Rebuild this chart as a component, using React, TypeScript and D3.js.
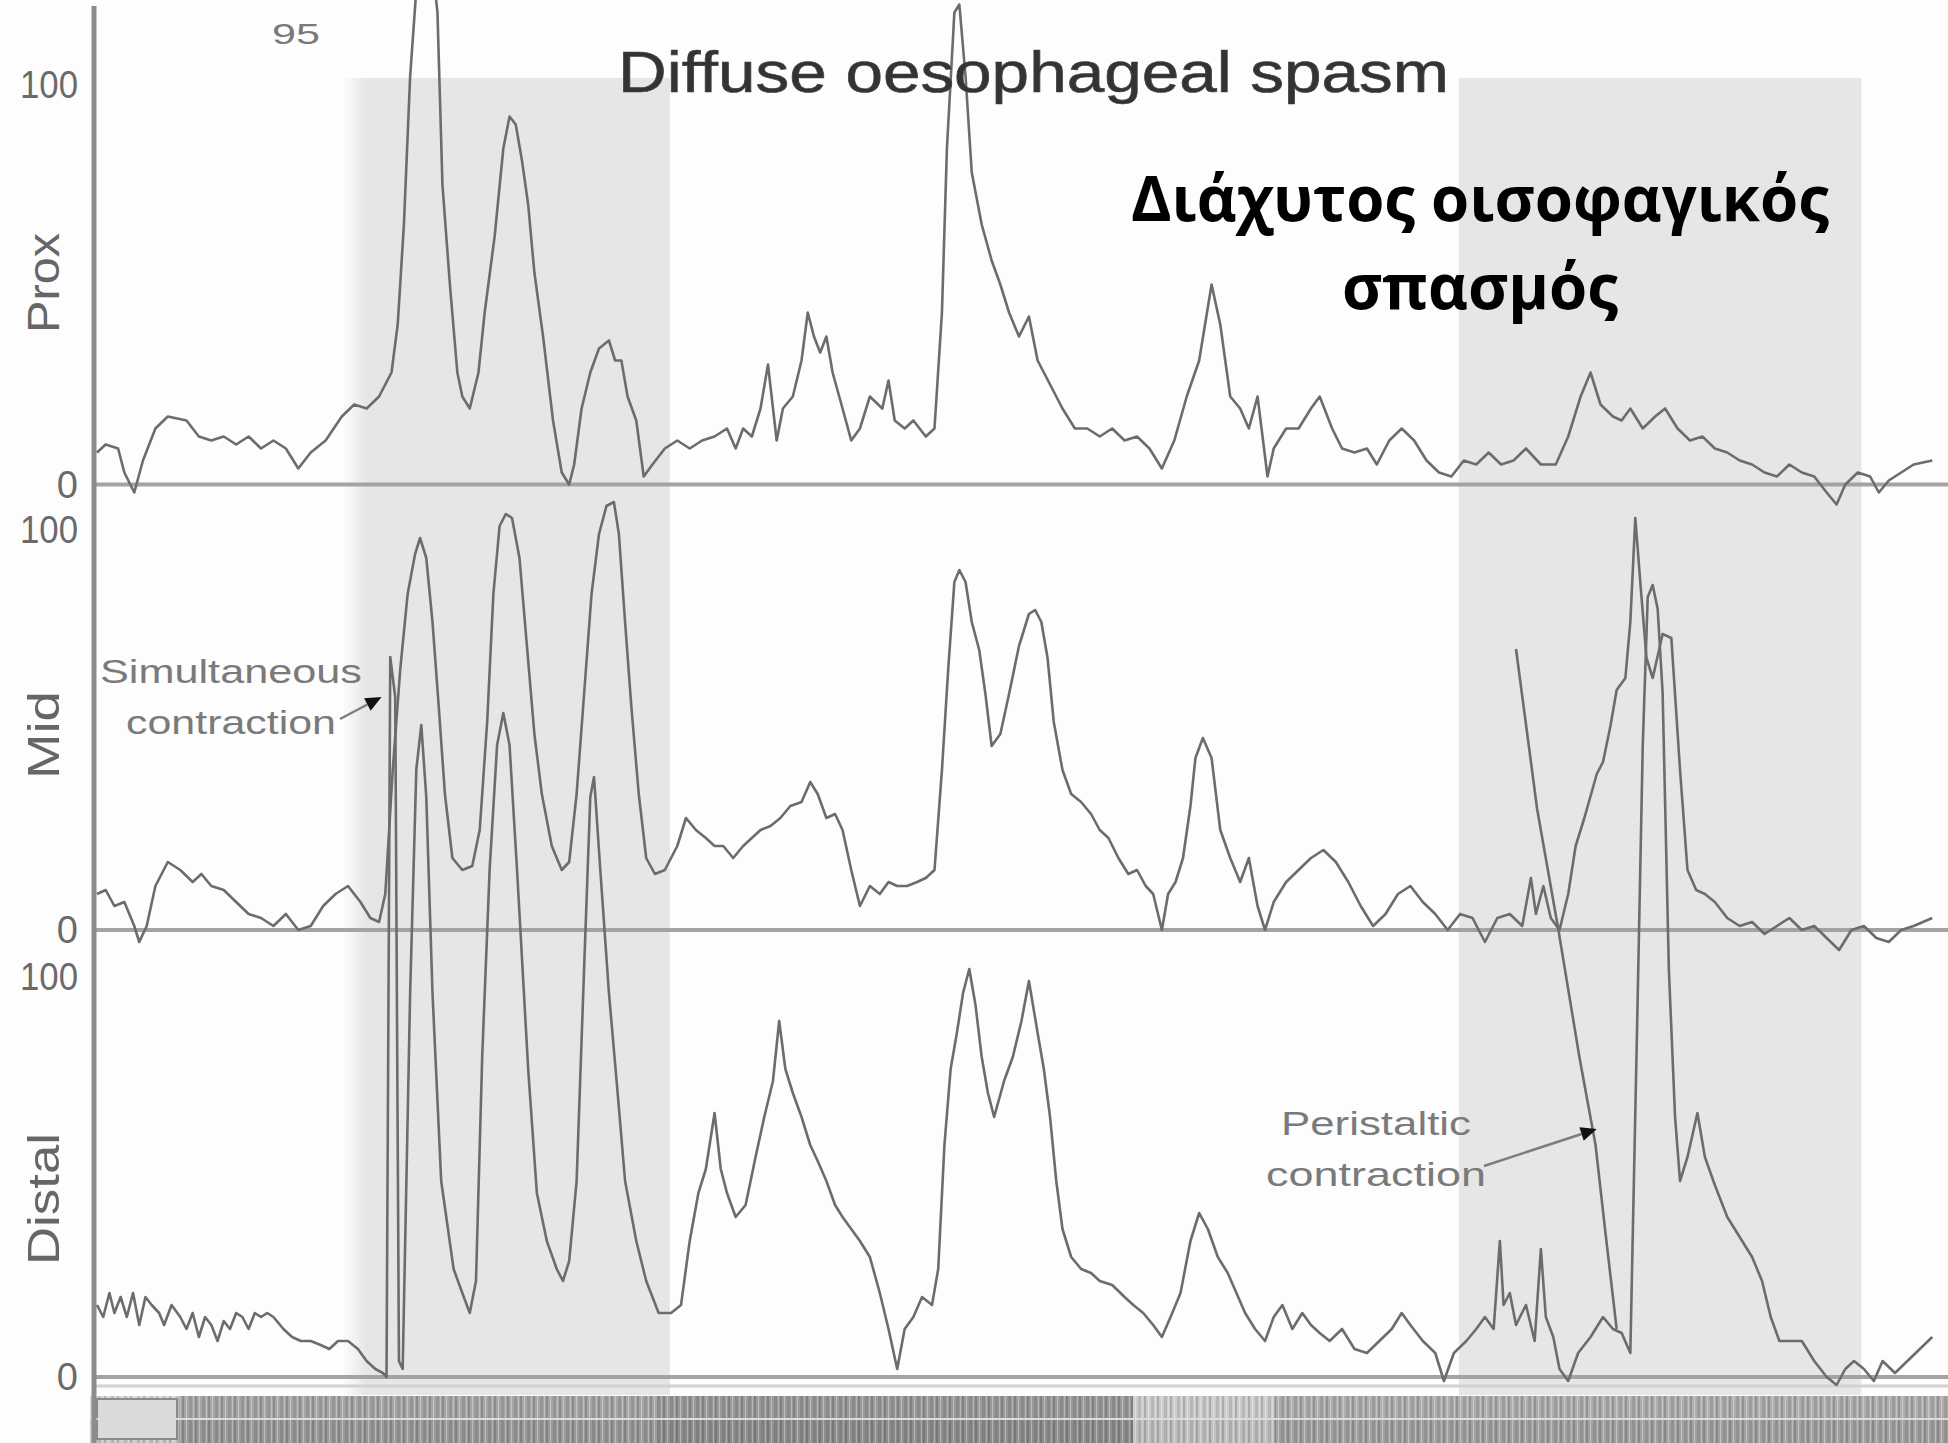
import React from "react";
import * as d3 from "d3";

type Pt = [number, number];

// time (arbitrary units, 0-148) , pressure (mmHg)
const proxSeries: Pt[] = [
  [0, 8], [0.7, 10], [1.7, 9], [2.2, 3], [3.0, -2], [3.7, 6], [4.7, 14], [5.7, 17], [7.2, 16], [8.2, 12],
  [9.2, 11], [10.2, 12], [11.2, 10], [12.2, 12], [13.2, 9], [14.2, 11], [15.2, 9], [16.2, 4], [17.2, 8], [18.4, 11],
  [19.7, 17], [20.7, 20], [21.7, 19], [22.7, 22], [23.7, 28], [24.2, 40], [24.7, 65], [25.2, 102], [26.3, 150], [27.4, 118],
  [27.8, 75], [28.4, 50], [29.0, 28], [29.4, 22], [30.0, 19], [30.7, 28], [31.2, 43], [32.0, 62], [32.7, 84], [33.2, 92],
  [33.7, 90], [34.2, 81], [34.7, 70], [35.2, 53], [35.9, 37], [36.7, 16], [37.4, 3], [38.0, 0], [38.4, 5], [39.0, 19],
  [39.7, 28], [40.4, 34], [41.2, 36], [41.7, 31], [42.2, 31], [42.7, 22], [43.4, 16], [44.0, 2], [44.7, 5], [45.7, 9],
  [46.7, 11], [47.7, 9], [48.7, 11], [49.7, 12], [50.7, 14], [51.4, 9], [52.0, 14], [52.7, 12], [53.4, 19], [54.0, 30],
  [54.7, 11], [55.2, 19], [56.0, 22], [56.7, 31], [57.2, 43], [57.7, 37], [58.2, 33], [58.7, 37], [59.2, 28], [60.0, 19],
  [60.7, 11], [61.4, 14], [62.2, 22], [63.2, 19], [63.7, 26], [64.2, 16], [65.0, 14], [65.7, 16], [66.7, 12], [67.4, 14],
  [68.0, 43], [68.4, 84], [69.0, 118], [69.4, 120], [69.9, 102], [70.4, 78], [71.2, 65], [72.0, 56], [72.7, 50], [73.4, 43],
  [74.2, 37], [75.0, 42], [75.7, 31], [76.7, 25], [77.7, 19], [78.7, 14], [79.7, 14], [80.7, 12], [81.7, 14], [82.7, 11],
  [83.7, 12], [84.7, 9], [85.7, 4], [86.7, 11], [87.7, 22], [88.7, 31], [89.7, 50], [90.4, 40], [91.2, 22], [92.0, 19],
  [92.7, 14], [93.4, 22], [94.2, 2], [94.7, 9], [95.7, 14], [96.7, 14], [97.7, 19], [98.4, 22], [99.4, 14], [100.2, 9],
  [101.2, 8], [102.2, 9], [103.0, 5], [104.0, 11], [105.0, 14], [106.0, 11], [107.0, 6], [108.0, 3], [109.0, 2], [110.0, 6],
  [111.0, 5], [112.0, 8], [113.0, 5], [114.0, 6], [115.0, 9], [116.2, 5], [117.4, 5], [118.4, 12], [119.4, 22], [120.2, 28],
  [121.0, 20], [122.0, 17], [122.7, 16], [123.4, 19], [124.4, 14], [125.4, 17], [126.2, 19], [127.2, 14], [128.2, 11], [129.2, 12],
  [130.2, 9], [131.2, 8], [132.2, 6], [133.2, 5], [134.2, 3], [135.2, 2], [136.2, 5], [137.2, 3], [138.2, 2], [139.2, -2],
  [140.0, -5], [140.7, 0], [141.7, 3], [142.7, 2], [143.4, -2], [144.2, 1], [145.2, 3], [146.2, 5], [147.7, 6],
];

const midSeries: Pt[] = [
  [0, 9], [0.7, 10], [1.4, 6], [2.2, 7], [3.0, 1], [3.4, -3], [4.0, 1], [4.7, 11], [5.7, 17], [6.7, 15],
  [7.7, 12], [8.4, 14], [9.2, 11], [10.2, 10], [11.2, 7], [12.2, 4], [13.2, 3], [14.2, 1], [15.2, 4], [16.2, 0],
  [17.2, 1], [18.2, 6], [19.2, 9], [20.2, 11], [21.2, 7], [22.0, 3], [22.7, 2], [23.2, 9], [23.8, 40], [24.4, 65],
  [25.0, 84], [25.6, 94], [26.0, 98], [26.5, 93], [27.0, 77], [27.5, 56], [28.0, 34], [28.6, 18], [29.4, 15], [30.2, 16],
  [30.8, 25], [31.4, 52], [31.9, 84], [32.4, 101], [32.9, 104], [33.4, 103], [34.0, 93], [34.6, 71], [35.2, 49], [35.8, 34],
  [36.6, 21], [37.4, 15], [38.0, 17], [38.6, 34], [39.2, 59], [39.8, 84], [40.4, 99], [41.0, 106], [41.6, 107], [42.0, 99],
  [42.5, 77], [43.0, 56], [43.6, 34], [44.2, 18], [44.9, 14], [45.7, 15], [46.7, 21], [47.4, 28], [48.2, 25], [49.0, 23],
  [49.7, 21], [50.4, 21], [51.2, 18], [52.0, 21], [52.7, 23], [53.4, 25], [54.2, 26], [55.0, 28], [55.8, 31], [56.7, 32],
  [57.4, 37], [58.0, 34], [58.7, 28], [59.4, 29], [60.0, 25], [60.7, 15], [61.4, 6], [62.2, 11], [63.0, 9], [63.7, 12],
  [64.4, 11], [65.2, 11], [66.0, 12], [66.7, 13], [67.4, 15], [68.0, 40], [68.5, 65], [69.0, 87], [69.4, 90], [69.9, 87],
  [70.4, 77], [71.0, 70], [71.5, 59], [72.0, 46], [72.7, 49], [73.4, 59], [74.2, 71], [75.0, 79], [75.5, 80], [76.0, 77],
  [76.5, 68], [77.0, 52], [77.7, 40], [78.4, 34], [79.2, 32], [80.0, 29], [80.7, 25], [81.4, 23], [82.2, 18], [83.0, 14],
  [83.7, 15], [84.4, 11], [85.0, 9], [85.7, 0], [86.2, 9], [86.8, 12], [87.4, 18], [88.0, 31], [88.4, 43], [89.0, 48],
  [89.7, 43], [90.4, 25], [91.2, 18], [92.0, 12], [92.7, 18], [93.4, 6], [94.0, 0], [94.7, 7], [95.7, 12], [96.7, 15],
  [97.7, 18], [98.7, 20], [99.7, 17], [100.7, 12], [101.7, 6], [102.7, 1], [103.7, 4], [104.7, 9], [105.7, 11], [106.7, 7],
  [107.7, 4], [108.7, 0], [109.7, 4], [110.7, 3], [111.7, -3], [112.7, 3], [113.7, 4], [114.7, 1], [115.4, 13], [115.8, 4],
  [116.4, 11], [117.0, 3], [117.7, 0], [118.4, 9], [119.0, 21], [119.7, 28], [120.7, 39], [121.2, 42], [121.8, 51], [122.3, 60],
  [123.0, 63], [123.4, 77], [123.8, 103], [124.2, 87], [124.7, 68], [125.2, 63], [126.0, 74], [126.7, 73], [127.4, 40], [128.0, 15],
  [128.7, 10], [129.4, 9], [130.2, 7], [131.2, 3], [132.2, 1], [133.2, 2], [134.2, -1], [135.2, 1], [136.2, 3], [137.2, 0],
  [138.2, 1], [139.2, -2], [140.2, -5], [141.2, 0], [142.2, 1], [143.2, -2], [144.2, -3], [145.2, 0], [146.2, 1], [147.7, 3],
];

const distalSeries: Pt[] = [
  [0, 18], [0.5, 15], [1.0, 21], [1.4, 16], [1.9, 20], [2.4, 15], [2.9, 21], [3.4, 13], [3.9, 20], [4.4, 18],
  [5.0, 16], [5.4, 13], [6.0, 18], [6.7, 15], [7.2, 12], [7.7, 16], [8.2, 10], [8.7, 15], [9.2, 13], [9.7, 9],
  [10.2, 14], [10.7, 12], [11.2, 16], [11.7, 15], [12.2, 12], [12.7, 16], [13.2, 15], [13.7, 16], [14.2, 15], [15.0, 12],
  [15.7, 10], [16.4, 9], [17.2, 9], [18.0, 8], [18.7, 7], [19.4, 9], [20.2, 9], [21.0, 7], [21.7, 4], [22.4, 2],
  [23.0, 1], [23.3, 0], [23.6, 180], [24.0, 170], [24.3, 4], [24.6, 2], [25.2, 96], [25.7, 152], [26.1, 163], [26.5, 145],
  [27.0, 96], [27.7, 49], [28.7, 27], [29.4, 21], [30.0, 16], [30.5, 24], [31.0, 80], [31.6, 127], [32.2, 158], [32.7, 166],
  [33.2, 158], [33.8, 127], [34.7, 77], [35.4, 46], [36.2, 34], [37.0, 27], [37.5, 24], [38.0, 29], [38.6, 49], [39.2, 102],
  [39.7, 145], [40.0, 150], [40.5, 127], [41.2, 96], [41.9, 71], [42.5, 49], [43.4, 34], [44.2, 24], [45.2, 16], [46.2, 16],
  [47.0, 18], [47.7, 34], [48.4, 46], [49.0, 52], [49.7, 66], [50.2, 52], [50.7, 46], [51.4, 40], [52.2, 43], [53.0, 55],
  [53.7, 65], [54.4, 74], [54.9, 89], [55.4, 77], [56.0, 71], [56.7, 65], [57.4, 58], [58.0, 54], [58.7, 49], [59.4, 43],
  [60.0, 40], [60.7, 37], [61.4, 34], [62.2, 30], [63.0, 21], [63.7, 12], [64.4, 2], [65.0, 12], [65.7, 15], [66.4, 20],
  [67.2, 18], [67.7, 27], [68.2, 58], [68.7, 77], [69.2, 86], [69.7, 96], [70.2, 102], [70.7, 93], [71.2, 80], [71.7, 71],
  [72.2, 65], [73.0, 74], [73.7, 80], [74.4, 89], [75.0, 99], [75.7, 86], [76.2, 77], [76.7, 65], [77.2, 49], [77.7, 37],
  [78.4, 30], [79.2, 27], [80.0, 26], [80.7, 24], [81.7, 23], [82.7, 20], [83.4, 18], [84.2, 16], [85.0, 13], [85.7, 10],
  [86.4, 15], [87.2, 21], [88.0, 34], [88.7, 41], [89.4, 37], [90.2, 30], [91.0, 26], [91.7, 21], [92.4, 16], [93.2, 12],
  [94.0, 9], [94.7, 15], [95.4, 18], [96.2, 12], [97.0, 16], [97.7, 13], [98.4, 11], [99.2, 9], [100.2, 12], [101.2, 7],
  [102.2, 6], [103.2, 9], [104.2, 12], [105.0, 16], [105.7, 13], [106.7, 9], [107.7, 6], [108.4, -1], [109.2, 6], [110.2, 9],
  [111.0, 12], [111.7, 15], [112.4, 12], [112.9, 34], [113.2, 18], [113.7, 21], [114.2, 13], [115.0, 18], [115.7, 9], [116.2, 32],
  [116.6, 15], [117.2, 10], [117.7, 2], [118.4, -1], [119.2, 6], [120.2, 10], [121.2, 15], [122.0, 12], [122.7, 11], [123.4, 6],
  [124.0, 96], [124.4, 158], [124.8, 195], [125.2, 198], [125.6, 192], [126.0, 171], [126.5, 102], [127.0, 65], [127.4, 49], [128.0, 55],
  [128.8, 66], [129.4, 55], [130.2, 48], [131.2, 40], [132.2, 35], [133.2, 30], [134.0, 24], [134.7, 15], [135.4, 9], [136.2, 9],
  [137.2, 9], [138.2, 4], [139.2, 0], [140.0, -2], [140.7, 2], [141.4, 4], [142.2, 2], [143.0, -1], [143.7, 4], [144.7, 1],
  [145.7, 4], [146.7, 7], [147.7, 10],
];

// the isolated peristaltic stroke of the distal channel
const peristalticStroke: Pt[] = [[114.2, 182], [115.9, 142], [117.6, 112], [119.3, 80], [120.6, 58], [121.4, 36], [122.3, 12]];

const shadedIntervals: [number, number][] = [[19.9, 46.1], [109.6, 142.0]];
const channelLabels = ["Prox", "Mid", "Distal"];
const tickValues = [0, 100];
// event-marker strip under the tracing: time span and darkness (0..1)
const eventStrip = [
  { from: -0.6, to: 6.6, level: 0.18 },
  { from: 6.6, to: 45, level: 0.5 },
  { from: 45, to: 83.4, level: 0.58 },
  { from: 83.4, to: 94.8, level: 0.25 },
  { from: 94.8, to: 149, level: 0.45 },
];
const titleText = "Diffuse oesophageal spasm";
const greekLines = ["Διάχυτος οισοφαγικός", "σπασμός"];
const annotations = [
  { lines: ["Simultaneous", "contraction"], t: 22.9, v: 170 },
  { lines: ["Peristaltic", "contraction"], t: 120.7, v: 62 },
];

const W = 1948;
const H = 1443;
const x = d3.scaleLinear().domain([0, 148]).range([97, 1936]);
const panelZero = [484.5, 930, 1377];
const yScales = panelZero.map((z) => d3.scaleLinear().domain([0, 100]).range([z, z - 400]));
const labelCenters = [283, 735, 1199];
const SANS = "'Liberation Sans', Arial, Helvetica, sans-serif";
const TRACE = "#6c6c6c";

export default function App() {
  const series = [proxSeries, midSeries, distalSeries];
  const stripColor = d3.scaleLinear<string>().domain([0, 1]).range(["#f2f2f2", "#5a5a5a"]);
  const bandTop = 78;
  const bandBottom = 1395;

  const annoLayout = [
    { cx: 231, base: 683, widths: [262, 210], arrowFrom: [340, 719] },
    { cx: 1376, base: 1135, widths: [190, 220], arrowFrom: [1484, 1166] },
  ];

  return (
    <div style={{ position: "absolute", left: 0, top: 0, width: W, height: H, background: "#fff" }}>
      <svg width={W} height={H} style={{ display: "block" }}>
        <defs>
          <linearGradient id="bandEdge" x1="0" x2="1" y1="0" y2="0">
            <stop offset="0" stopColor="#fbfbfb" />
            <stop offset="1" stopColor="#e6e7e5" />
          </linearGradient>
          <pattern id="stripTex" patternUnits="userSpaceOnUse" width={13} height={6}>
            <rect x={0} y={0} width={2} height={6} fill="#000" opacity={0.16} />
            <rect x={4} y={0} width={1} height={6} fill="#fff" opacity={0.35} />
            <rect x={7} y={0} width={3} height={6} fill="#000" opacity={0.1} />
            <rect x={11} y={0} width={1} height={6} fill="#fff" opacity={0.25} />
          </pattern>
        </defs>
        <rect width={W} height={H} fill="#fdfdfd" />

        {shadedIntervals.map(([a, b], i) => (
          <g key={"band" + i}>
            <rect x={x(a)} y={bandTop} width={x(b) - x(a)} height={bandBottom - bandTop} fill="#e6e7e5" />
            {i === 0 && (
              <rect x={x(a)} y={bandTop} width={22} height={bandBottom - bandTop} fill="url(#bandEdge)" />
            )}
          </g>
        ))}

        {/* zero baselines */}
        {panelZero.map((z, i) => (
          <line key={"base" + i} x1={94} x2={W} y1={z} y2={z} stroke="#a3a3a3" strokeWidth={4} />
        ))}
        <line x1={94} x2={W} y1={panelZero[2] + 9} y2={panelZero[2] + 9} stroke="#d2d2d2" strokeWidth={3} />

        {/* event strip */}
        {eventStrip.map((s, i) => {
          const x0 = Math.max(90, x(s.from));
          const x1 = Math.min(W, x(s.to));
          return (
            <g key={"strip" + i}>
              <rect x={x0} y={1396} width={x1 - x0} height={22} fill={stripColor(s.level)} />
              <rect x={x0} y={1420} width={x1 - x0} height={23} fill={stripColor(Math.min(1, s.level + 0.08))} />
            </g>
          );
        })}
        <rect x={97} y={1396} width={W - 97} height={47} fill="url(#stripTex)" />
        <rect x={97} y={1399} width={80} height={40} fill="#dadada" stroke="#8a8a8a" strokeWidth={2} />
        <line x1={90} x2={W} y1={1419} y2={1419} stroke="#dcdcdc" strokeWidth={2} />

        {/* vertical axis */}
        <line x1={94} x2={94} y1={6} y2={H} stroke="#8c8c8c" strokeWidth={5} />

        {/* tick labels */}
        {yScales.map((ys, i) =>
          tickValues.map((v) => (
            <text
              key={"tick" + i + "-" + v}
              x={78}
              y={ys(v)}
              textAnchor="end"
              dominantBaseline="central"
              fontFamily={SANS}
              fontSize={38}
              fill="#6a6a6a"
              textLength={v === 100 ? 58 : undefined}
              lengthAdjust="spacingAndGlyphs"
            >
              {v}
            </text>
          ))
        )}

        {/* channel labels */}
        {channelLabels.map((lab, i) => (
          <text
            key={lab}
            transform={`translate(59, ${labelCenters[i]}) rotate(-90)`}
            textAnchor="middle"
            fontFamily={SANS}
            fontSize={44}
            fill="#666"
            textLength={[100, 88, 132][i]}
            lengthAdjust="spacingAndGlyphs"
          >
            {lab}
          </text>
        ))}

        {/* traces */}
        {series.map((data, i) => {
          const gen = d3.line<Pt>().x((d) => x(d[0])).y((d) => yScales[i](d[1]));
          return (
            <path key={"trace" + i} d={gen(data) || ""} fill="none" stroke={TRACE} strokeWidth={2.6} strokeLinejoin="round" />
          );
        })}
        <path
          d={d3.line<Pt>().x((d) => x(d[0])).y((d) => yScales[2](d[1]))(peristalticStroke) || ""}
          fill="none"
          stroke={TRACE}
          strokeWidth={2.6}
        />

        {/* annotations */}
        {annotations.map((a, i) => {
          const L = annoLayout[i];
          const tx = x(a.t);
          const ty = yScales[2](a.v);
          const [fx, fy] = L.arrowFrom;
          const ang = Math.atan2(ty - fy, tx - fx);
          const hl = 16;
          const hw = 7;
          const bx = tx - hl * Math.cos(ang);
          const by = ty - hl * Math.sin(ang);
          const p1 = [bx + hw * Math.sin(ang), by - hw * Math.cos(ang)];
          const p2 = [bx - hw * Math.sin(ang), by + hw * Math.cos(ang)];
          return (
            <g key={"anno" + i}>
              {a.lines.map((ln, j) => (
                <text
                  key={j}
                  x={L.cx}
                  y={L.base + j * 51}
                  textAnchor="middle"
                  fontFamily={SANS}
                  fontSize={34}
                  fill="#7a7a7a"
                  textLength={L.widths[j]}
                  lengthAdjust="spacingAndGlyphs"
                >
                  {ln}
                </text>
              ))}
              <line x1={fx} y1={fy} x2={bx} y2={by} stroke="#7d7d7d" strokeWidth={2.5} />
              <polygon points={`${tx},${ty} ${p1[0]},${p1[1]} ${p2[0]},${p2[1]}`} fill="#111" />
            </g>
          );
        })}

        {/* small figure mark */}
        <text x={272} y={44} fontFamily={SANS} fontSize={30} fill="#7a7a7a" textLength={48} lengthAdjust="spacingAndGlyphs">95</text>

        {/* title */}
        <text
          x={618}
          y={92}
          fontFamily={SANS}
          fontSize={58}
          fill="#333"
          stroke="#444"
          strokeWidth={0.7}
          textLength={831}
          lengthAdjust="spacingAndGlyphs"
        >
          {titleText}
        </text>

        {/* Greek caption */}
        {greekLines.map((ln, i) => (
          <text
            key={"gr" + i}
            x={1480}
            y={221 + i * 88}
            textAnchor="middle"
            fontFamily="'Open Sans', 'Noto Sans', sans-serif"
            fontWeight={700}
            fontSize={62}
            fill="#000"
            textLength={[698, 276][i]}
            lengthAdjust="spacingAndGlyphs"
          >
            {ln}
          </text>
        ))}
      </svg>
    </div>
  );
}
